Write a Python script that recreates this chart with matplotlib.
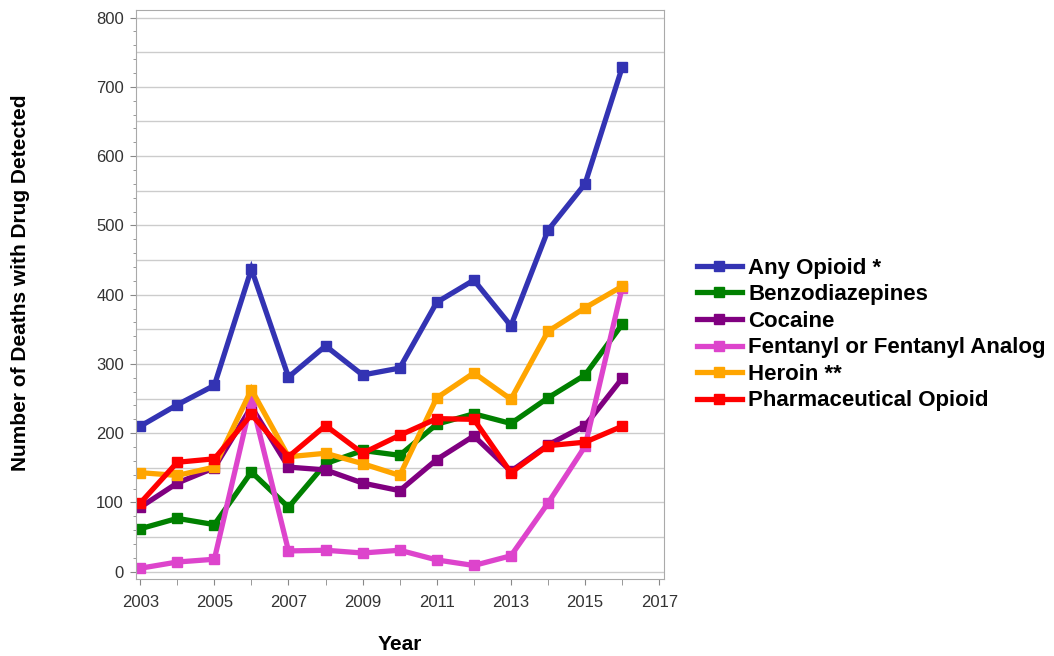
import matplotlib

matplotlib.use("Agg")
import matplotlib.pyplot as plt
from matplotlib.ticker import MultipleLocator

plt.rcParams["font.family"] = ["Liberation Sans", "DejaVu Sans"]

years = list(range(2003, 2017))

any_opioid = [210, 241, 269, 437, 281, 326, 284, 294, 389, 421, 355, 493, 560, 728]
benzodiazepines = [62, 77, 68, 144, 93, 156, 175, 168, 213, 228, 214, 251, 284, 357]
cocaine = [93, 128, 150, 238, 151, 147, 128, 117, 162, 196, 145, 183, 211, 279]
fentanyl = [5, 14, 18, 247, 30, 31, 27, 31, 17, 9, 23, 99, 181, 410]
heroin = [143, 139, 151, 263, 166, 171, 156, 139, 251, 287, 249, 347, 381, 412]
pharmaceutical = [99, 158, 163, 227, 166, 211, 171, 197, 221, 220, 143, 182, 187, 210]

series = [
    ("Any Opioid *", any_opioid, "#3333b3"),
    ("Benzodiazepines", benzodiazepines, "#008000"),
    ("Cocaine", cocaine, "#800080"),
    ("Fentanyl or Fentanyl Analog", fentanyl, "#dd44cc"),
    ("Heroin **", heroin, "#ffa500"),
    ("Pharmaceutical Opioid", pharmaceutical, "#ff0000"),
]

fig = plt.figure(figsize=(10.54, 6.56), dpi=100, facecolor="white")
ax = fig.add_axes([0.1288, 0.1174, 0.5012, 0.8674])

for y in range(0, 801, 50):
    ax.axhline(y, color="#cccccc", linewidth=1.0, zorder=0)

for name, values, color in series:
    ax.plot(years, values, color=color, linewidth=3.8, marker="s",
            markersize=6.5, label=name, solid_joinstyle="miter")

ax.set_xlim(2002.88, 2017.13)
ax.set_ylim(-10.5, 811)
ax.xaxis.set_minor_locator(MultipleLocator(1))
ax.yaxis.set_major_locator(MultipleLocator(100))
ax.yaxis.set_minor_locator(MultipleLocator(20))
ax.set_xticks(range(2003, 2018, 2))

for side in ["left", "right", "top", "bottom"]:
    ax.spines[side].set_color("#aaaaaa")
ax.tick_params(which="both", colors="#888888", labelcolor="#333333", labelsize=12)
ax.tick_params(which="major", length=4.5)
ax.tick_params(which="minor", length=2.5)
ax.tick_params(axis="x", which="minor", length=4.5)
ax.tick_params(axis="x", which="major", pad=7)
ax.tick_params(axis="y", which="major", pad=4)

ax.set_xlabel("Year", fontsize=15, fontweight="bold", labelpad=18)
ax.set_ylabel("Number of Deaths with Drug Detected", fontsize=15,
              fontweight="bold")
ax.yaxis.set_label_coords(-0.2, 0.52)

fig.legend(loc="center left", bbox_to_anchor=(0.653, 0.49), frameon=False,
           prop={"size": 16, "weight": "bold"}, handlelength=2.0,
           handletextpad=0.3, labelspacing=0.25, borderaxespad=0)

fig.savefig("out.png", dpi=100, facecolor="white")
